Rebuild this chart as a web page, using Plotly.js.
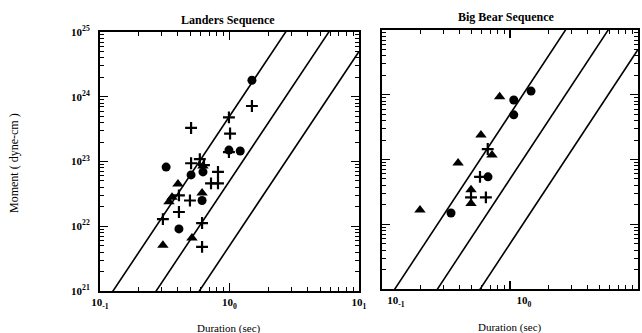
<!DOCTYPE html>
<html><head><meta charset="utf-8">
<script src="https://cdn.plot.ly/plotly-3.0.1.min.js"></script>
<style>html,body{margin:0;padding:0;background:#fff}#chart{width:642px;height:333px}</style>
</head><body><div id="chart"></div>
<script>
// ---- Landers sequence (duration sec, moment dyne-cm)
const landersPlusT = [1.49, 0.99, 1.01, 0.505, 0.99, 0.59, 0.505, 0.635, 0.815, 0.72, 0.815, 0.407, 0.495, 0.407, 0.306, 0.614, 0.614];
const landersPlusM = [7.2e23, 4.8e23, 2.7e23, 3.3e23, 1.4e23, 1.09e23, 9.4e22, 8.8e22, 6.9e22, 4.6e22, 4.6e22, 3.0e22, 2.5e22, 1.66e22, 1.29e22, 1.12e22, 4.8e21];
const landersCircT = [1.49, 0.99, 1.21, 0.324, 0.505, 0.624, 0.614, 0.407];
const landersCircM = [1.8e24, 1.5e23, 1.45e23, 8.2e22, 6.2e22, 6.9e22, 2.5e22, 9.1e21];
const landersTriT = [0.40, 0.36, 0.341, 0.614, 0.624, 0.306, 0.513];
const landersTriM = [4.5e22, 2.8e22, 2.4e22, 3.25e22, 8.5e22, 5.1e21, 6.6e21];
// ---- Big Bear sequence
const bigbearPlusT = [0.67, 0.583, 0.648, 0.496];
const bigbearPlusM = [1.45e23, 5.4e22, 2.6e22, 2.6e22];
const bigbearCircT = [1.07, 1.46, 1.07, 0.673, 0.346];
const bigbearCircM = [8.3e23, 1.14e24, 4.9e23, 5.4e22, 1.49e22];
const bigbearTriT = [0.83, 0.593, 0.723, 0.393, 0.496, 0.496, 0.198];
const bigbearTriM = [9.3e23, 2.4e23, 1.17e23, 8.8e22, 3.4e22, 2.1e22, 1.66e22];
// ---- reference lines M ~ T^3
const refT = [0.1, 10];
const ref1M = [5.0e20, 5.0e26];
const ref2M = [5.0e19, 5.0e25];
const ref3M = [5.0e18, 5.0e24];
// ---- ticks
const xTickVals = [0.1, 1, 10];
const xTickText = ['10<sub>-1</sub>', '10<sub>0</sub>', '10<sub>1</sub>'];
const yTickVals = [1e21, 1e22, 1e23, 1e24, 1e25];
const yTickText = ['10<sup>21</sup>', '10<sup>22</sup>', '10<sup>23</sup>', '10<sup>24</sup>', '10<sup>25</sup>'];
const titles = ['Landers Sequence', 'Big Bear Sequence'];
const xTitle = 'Duration (sec)';
const yTitle = 'Moment ( dyne-cm )';

function minorVals(lo, hi) {
  const v = [];
  for (let e = lo; e < hi; e++) for (let k = 2; k <= 9; k++) v.push(k * Math.pow(10, e));
  return v;
}

const pts = (x, y, sym, xa, ya, size, open) => ({
  x, y, xaxis: xa, yaxis: ya, type: 'scatter', mode: 'markers', showlegend: false, hoverinfo: 'skip',
  cliponaxis: true,
  marker: open ? {symbol: sym, size: size, color: 'black', line: {color: 'black', width: 2.2}}
               : {symbol: sym, size: size, color: 'black', line: {width: 0}}
});
const ln = (y, xa, ya) => ({x: refT, y, xaxis: xa, yaxis: ya, type: 'scatter', mode: 'lines',
  showlegend: false, hoverinfo: 'skip', line: {color: 'black', width: 1.6}});
const ghost = (xa, ya) => ({x: [1], y: [1e23], xaxis: xa, yaxis: ya, type: 'scatter', mode: 'markers',
  showlegend: false, hoverinfo: 'skip', marker: {opacity: 0, size: 1}});

const data = [
  ghost('x3', 'y3'), ghost('x4', 'y4'),
  ln(ref1M, 'x', 'y'), ln(ref2M, 'x', 'y'), ln(ref3M, 'x', 'y'),
  ln(ref1M, 'x2', 'y2'), ln(ref2M, 'x2', 'y2'), ln(ref3M, 'x2', 'y2'),
  pts(landersPlusT, landersPlusM, 'cross-thin-open', 'x', 'y', 8.5, true),
  pts(landersCircT, landersCircM, 'circle', 'x', 'y', 9, false),
  pts(landersTriT, landersTriM, 'triangle-up', 'x', 'y', 10, false),
  pts(bigbearPlusT, bigbearPlusM, 'cross-thin-open', 'x2', 'y2', 8.5, true),
  pts(bigbearCircT, bigbearCircM, 'circle', 'x2', 'y2', 9, false),
  pts(bigbearTriT, bigbearTriM, 'triangle-up', 'x2', 'y2', 10, false)
];

const serif = 'Liberation Serif, Times New Roman, serif';
const tickFont = {family: serif, size: 11, color: 'black', weight: 'bold'};
const W = 642, H = 333;
const xDom1 = [100 / W, 359 / W], xDom2 = [382 / W, 638 / W];
const yDom1 = [1 - 291 / H, 1 - 32 / H], yDom2 = [1 - 289 / H, 1 - 30 / H];

const xAx = (d, shift, anchor) => ({
  type: 'log', range: [-1, 1], domain: d, anchor: anchor, showgrid: false, zeroline: false,
  showline: true, linecolor: 'black', linewidth: 2, mirror: 'ticks',
  ticks: 'inside', ticklen: 8, tickwidth: 1.3, tickcolor: 'black',
  tickmode: 'array', tickvals: xTickVals, ticktext: xTickText, tickfont: tickFont,
  ticklabelshift: shift, ticklabelstandoff: 0
});
const yAx = (d, showLabels, anchor) => ({
  type: 'log', range: [21, 25], domain: d, anchor: anchor, showgrid: false, zeroline: false,
  showline: true, linecolor: 'black', linewidth: 2, mirror: 'ticks',
  ticks: 'inside', ticklen: 8, tickwidth: 1.3, tickcolor: 'black',
  tickmode: 'array', tickvals: yTickVals, ticktext: yTickText, tickfont: tickFont,
  showticklabels: showLabels, ticklabelstandoff: 6
});
const minorAx = (range, vals, d, anchor) => ({
  type: 'log', range: range, domain: d, anchor: anchor, showgrid: false, zeroline: false,
  showline: true, linecolor: 'black', linewidth: 2, mirror: 'ticks',
  ticks: 'inside', ticklen: 4, tickwidth: 1, tickcolor: 'black',
  tickmode: 'array', tickvals: vals, showticklabels: false
});

const layout = {
  width: W, height: H, margin: {l: 0, r: 0, t: 0, b: 0},
  paper_bgcolor: 'white', plot_bgcolor: 'rgba(0,0,0,0)', showlegend: false,
  xaxis3: minorAx([-1, 1], minorVals(-1, 1), xDom1, 'y3'),
  yaxis3: minorAx([21, 25], minorVals(21, 25), yDom1, 'x3'),
  xaxis4: minorAx([-1, 1], minorVals(-1, 1), xDom2, 'y4'),
  yaxis4: minorAx([21, 25], minorVals(21, 25), yDom2, 'x4'),
  xaxis: xAx(xDom1, 0, 'y'),
  yaxis: yAx(yDom1, true, 'x'),
  xaxis2: xAx(xDom2, 14, 'y2'),
  yaxis2: yAx(yDom2, false, 'x2'),
  annotations: [
    {text: titles[0], x: 228 / W, y: 1 - 20 / H, xref: 'paper', yref: 'paper', showarrow: false,
     xanchor: 'center', yanchor: 'middle', font: {family: serif, size: 12, color: 'black', weight: 'bold'}},
    {text: titles[1], x: 506 / W, y: 1 - 17 / H, xref: 'paper', yref: 'paper', showarrow: false,
     xanchor: 'center', yanchor: 'middle', font: {family: serif, size: 12, color: 'black', weight: 'bold'}},
    {text: xTitle, x: 229 / W, y: 1 - 328 / H, xref: 'paper', yref: 'paper', showarrow: false,
     xanchor: 'center', yanchor: 'middle', font: {family: serif, size: 11, color: 'black'}},
    {text: xTitle, x: 510 / W, y: 1 - 327 / H, xref: 'paper', yref: 'paper', showarrow: false,
     xanchor: 'center', yanchor: 'middle', font: {family: serif, size: 11, color: 'black'}},
    {text: yTitle, x: 14 / W, y: 1 - 163 / H, xref: 'paper', yref: 'paper', showarrow: false, textangle: -90,
     xanchor: 'center', yanchor: 'middle', font: {family: serif, size: 12, color: 'black'}}
  ]
};
Plotly.newPlot('chart', data, layout, {staticPlot: true, displayModeBar: false});
</script>
</body></html>
